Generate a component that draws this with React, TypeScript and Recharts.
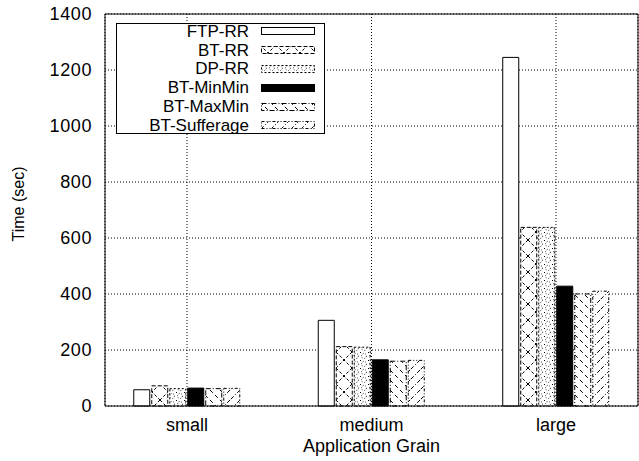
import React from "react";
import { BarChart, Bar, XAxis, YAxis, CartesianGrid, Legend, Label } from "recharts";

const categories = ["small", "medium", "large"];
const ftpRR = [58, 306, 1245];
const btRR = [72, 212, 638];
const dpRR = [62, 210, 638];
const btMinMin = [64, 165, 428];
const btMaxMin = [62, 160, 400];
const btSufferage = [63, 163, 410];

const seriesNames = ["FTP-RR", "BT-RR", "DP-RR", "BT-MinMin", "BT-MaxMin", "BT-Sufferage"];
const seriesValues = [ftpRR, btRR, dpRR, btMinMin, btMaxMin, btSufferage];
const yTicks = [0, 200, 400, 600, 800, 1000, 1200, 1400];

const seriesStyle: Record<string, { fill: string; dash?: string }> = {
  "FTP-RR": { fill: "#fff" },
  "BT-RR": { fill: "url(#patCross)", dash: "4 2" },
  "DP-RR": { fill: "url(#patDots)", dash: "2 2" },
  "BT-MinMin": { fill: "#000" },
  "BT-MaxMin": { fill: "url(#patBack)", dash: "5 2 1 2" },
  "BT-Sufferage": { fill: "url(#patFwd)", dash: "3 2 1 2 1 2" },
};

const data = categories.map((name, i) => {
  const row: Record<string, number | string> = { x: i, name };
  seriesNames.forEach((s, k) => {
    row[s] = seriesValues[k][i];
  });
  return row;
});

const font = "'Liberation Sans', Arial, Helvetica, sans-serif";

function Patterns() {
  return (
    <svg width={0} height={0} style={{ position: "absolute" }}>
      <defs>
        <pattern id="patCross" width={16} height={16} patternUnits="userSpaceOnUse">
          <rect width={16} height={16} fill="#fff" />
          <path d="M0 0 L16 16 M16 0 L0 16" stroke="#000" strokeWidth={1} strokeDasharray="3 2" />
        </pattern>
        <pattern id="patDots" width={8} height={8} patternUnits="userSpaceOnUse">
          <rect width={8} height={8} fill="#fff" />
          <circle cx={4} cy={4} r={2.5} fill="none" stroke="#000" strokeWidth={0.8} strokeDasharray="1 1.5" />
          <rect x={0} y={0} width={1} height={1} fill="#000" />
        </pattern>
        <pattern id="patBack" width={10} height={10} patternUnits="userSpaceOnUse">
          <rect width={10} height={10} fill="#fff" />
          <path d="M0 0 L10 10" stroke="#000" strokeWidth={1} strokeDasharray="4 3" />
        </pattern>
        <pattern id="patFwd" width={10} height={10} patternUnits="userSpaceOnUse">
          <rect width={10} height={10} fill="#fff" />
          <path d="M10 0 L0 10" stroke="#000" strokeWidth={1} strokeDasharray="4 2 1 2" />
        </pattern>
      </defs>
    </svg>
  );
}

const renderLegend = (props: any) => {
  const payload = [...(props.payload || [])].sort(
    (a: any, b: any) => seriesNames.indexOf(a.value) - seriesNames.indexOf(b.value)
  );
  return (
    <div
      style={{
        border: "1px solid #000",
        background: "#fff",
        width: 209,
        height: 111,
        boxSizing: "border-box",
        fontFamily: font,
        fontSize: 17,
        color: "#000",
      }}
    >
      <div style={{ marginTop: -2 }}>
        {payload.map((entry: any) => {
          const st = seriesStyle[entry.value];
          return (
            <div key={entry.value} style={{ height: 18.8, display: "flex", alignItems: "center" }}>
              <span style={{ width: 132, textAlign: "right", lineHeight: "17px", whiteSpace: "nowrap" }}>
                {entry.value}
              </span>
              <svg width={56} height={10} style={{ marginLeft: 11, display: "block" }}>
                <rect
                  x={1.5}
                  y={1.5}
                  width={53}
                  height={7}
                  fill={st.fill}
                  stroke="#000"
                  strokeWidth={1}
                  strokeDasharray={st.dash}
                />
              </svg>
            </div>
          );
        })}
      </div>
    </div>
  );
};

// plot area runs from y=14 to y=406
const renderYLabel = () => {
  const cx = 18.5;
  const cy = 204;
  return (
    <text
      x={cx}
      y={cy}
      transform={`rotate(-90 ${cx} ${cy})`}
      textAnchor="middle"
      dominantBaseline="central"
      fontSize={16}
      fill="#000"
    >
      Time (sec)
    </text>
  );
};

export default function App() {
  const xDomain = [-0.4445, 2.4445];
  return (
    <div style={{ position: "absolute", left: 0, top: 0, width: 639, height: 461, fontFamily: font, background: "#fff" }}>
      <Patterns />
      <BarChart
        width={639}
        height={461}
        data={data}
        margin={{ top: 14, right: 1, bottom: 0, left: 0 }}
        barGap={2}
      >
        <CartesianGrid stroke="#000" strokeDasharray="1 2" strokeWidth={1} />
        <XAxis
          dataKey="x"
          type="number"
          domain={xDomain}
          ticks={[0, 1, 2]}
          allowDataOverflow
          height={55}
          tickLine={false}
          tickSize={6}
          tickMargin={6}
          axisLine={{ stroke: "#000" }}
          tick={{ fill: "#000", fontSize: 18 }}
          tickFormatter={(v: number) => categories[v] ?? ""}
          label={{ value: "Application Grain", position: "insideBottom", offset: 9, fill: "#000", fontSize: 18 }}
        />
        <XAxis
          xAxisId="top"
          orientation="top"
          type="number"
          domain={xDomain}
          allowDataOverflow
          mirror
          tick={false}
          tickLine={false}
          axisLine={{ stroke: "#000" }}
        />
        <YAxis
          type="number"
          domain={[0, 1400]}
          ticks={yTicks}
          width={105}
          tickLine={false}
          tickSize={6}
          tickMargin={7}
          axisLine={{ stroke: "#000" }}
          tick={{ fill: "#000", fontSize: 18, letterSpacing: 0.6 }}
        >
          <Label content={renderYLabel} />
        </YAxis>
        <YAxis
          yAxisId="leftTicks"
          type="number"
          domain={[0, 1400]}
          ticks={yTicks}
          mirror
          tick={false}
          tickSize={5}
          axisLine={false}
          tickLine={{ stroke: "#000" }}
        />
        <YAxis
          yAxisId="right"
          orientation="right"
          type="number"
          domain={[0, 1400]}
          ticks={yTicks}
          mirror
          tick={false}
          tickSize={5}
          axisLine={{ stroke: "#000" }}
          tickLine={{ stroke: "#000" }}
        />
        <Legend
          layout="vertical"
          align="center"
          verticalAlign="middle"
          width={209}
          height={111}
          wrapperStyle={{ left: 116, top: 23, width: 209, height: 111 }}
          content={renderLegend}
        />
        {seriesNames.map((s) => (
          <Bar
            key={s}
            dataKey={s}
            name={s}
            fill={seriesStyle[s].fill}
            stroke="#000"
            strokeWidth={1}
            strokeDasharray={seriesStyle[s].dash}
            barSize={16}
            isAnimationActive={false}
          />
        ))}
      </BarChart>
    </div>
  );
}
